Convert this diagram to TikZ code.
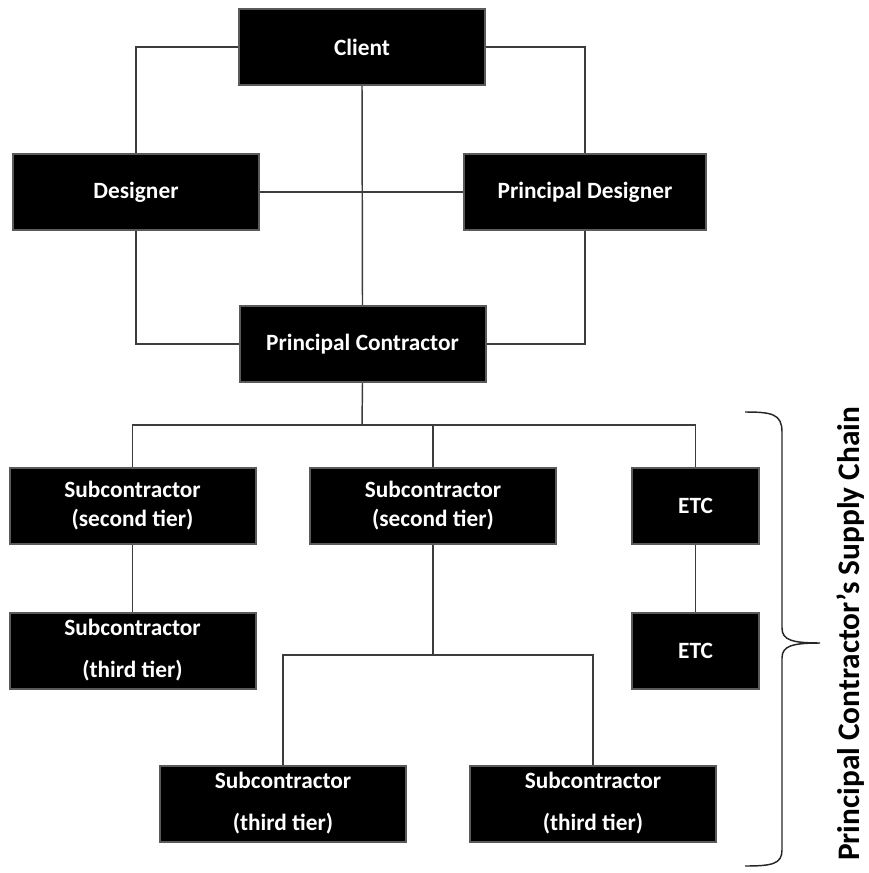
\documentclass[tikz,border=0pt]{standalone}
\usepackage{fontspec}
\setmainfont{Carlito}
\usetikzlibrary{calc,positioning}
\usepackage{xcolor}
\newcommand{\pxunit}{0.75pt}
\newcommand{\boxfont}{\fontsize{17.5pt}{21.75pt}\selectfont\bfseries}
\newcommand{\tierfont}{\fontsize{17.5pt}{31.5pt}\selectfont\bfseries}
\newcommand{\chainfont}{\fontsize{23.5pt}{28pt}\selectfont\bfseries}
\tikzset{
    boxsty/.style={draw=boxgray,fill=black,rectangle,line width=1.5pt,inner sep=0pt,minimum height=76*\pxunit,text=white,font=\boxfont,align=center},
    widesty/.style={boxsty,minimum width=246*\pxunit},
    narrowsty/.style={boxsty,minimum width=127*\pxunit},
    tiersty/.style={widesty,font=\tierfont},
    linksty/.style={draw=linkgray,line width=1.1pt},
    bracesty/.style={draw=black!85,line width=1.1pt},
    namesty/.style={font=\chainfont,rotate=90,anchor=base,inner sep=0pt},
}
\definecolor{boxgray}{HTML}{5A5A5A}
\definecolor{linkgray}{HTML}{3C3C3C}

\begin{document}
\begin{tikzpicture}[x=\pxunit,y=-\pxunit]
\useasboundingbox (0,0) rectangle (868,873);

\node[widesty] (client) at (362,47) {Client};
\node[widesty] (designer) at (136,192) {Designer};
\node[boxsty,minimum width=242*\pxunit] (pdesigner) at (585,192) {Principal Designer};
\node[widesty] (pcontractor) at (362.5,344) {Principal Contractor};

\node[widesty] (subA) at (132.5,505.5) {Subcontractor\\(second tier)};
\node[widesty] (subB) at (433,505.5) {Subcontractor\\(second tier)};
\node[narrowsty] (etcA) at (695.5,505.5) {ETC};
\node[tiersty] (subAA) at (132.5,650.5) {Subcontractor\\(third tier)};
\node[narrowsty] (etcB) at (695.5,650.5) {ETC};
\node[tiersty] (subBA) at (283,803.5) {Subcontractor\\(third tier)};
\node[tiersty] (subBB) at (593,803.5) {Subcontractor\\(third tier)};

\coordinate (bus) at (362,425);
\coordinate (fork) at (433,655);

\draw[linksty] (client.west) -| (designer.north);
\draw[linksty] (client.east) -| (pdesigner.north);
\draw[linksty] (client.south) -- (pcontractor.north);
\draw[linksty] (designer.east) -- (pdesigner.west);
\draw[linksty] (designer.south) |- (pcontractor.west);
\draw[linksty] (pdesigner.south) |- (pcontractor.east);

\draw[linksty] (pcontractor.south) -- (bus);
\draw[linksty] (subA.north) -- (subA.north |- bus) -- (etcA.north |- bus) -- (etcA.north);
\draw[linksty] (subB.north) -- (subB.north |- bus);
\draw[linksty] (subA.south) -- (subAA.north);
\draw[linksty] (etcA.south) -- (etcB.north);
\draw[linksty] (subB.south) -- (fork);
\draw[linksty] (subBA.north) |- (fork) -| (subBB.north);

\draw[bracesty] (745,412) .. controls (772,412) and (782,414) .. (782,432)
  -- (782,628) .. controls (782,640) and (792,643) .. (820,643)
  .. controls (792,643) and (782,646) .. (782,658)
  -- (782,850) .. controls (782,864) and (772,866) .. (745,866);
\node[namesty] (chain) at (859,634) {Principal Contractor’s Supply Chain};
\end{tikzpicture}
\end{document}
